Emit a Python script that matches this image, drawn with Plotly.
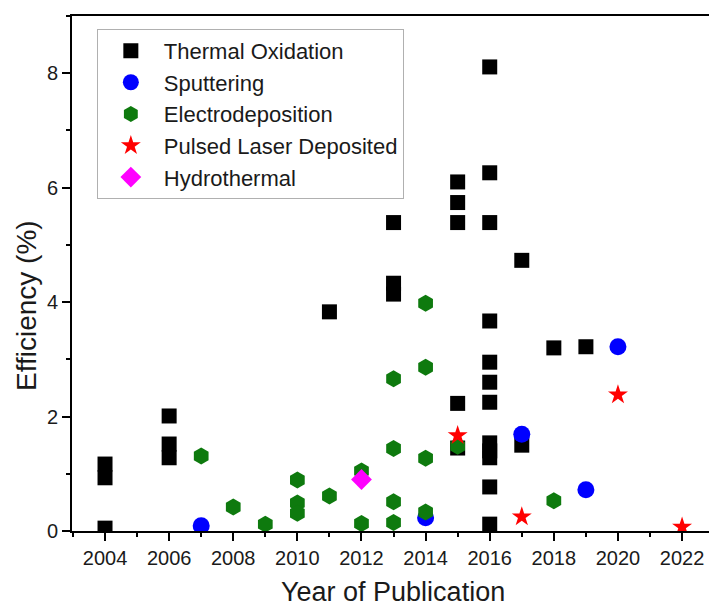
import plotly.graph_objects as go

# Thermal Oxidation
thermal_x = [2004, 2004, 2004, 2006, 2006, 2006, 2011, 2013, 2013, 2013,
             2015, 2015, 2015, 2015, 2015,
             2016, 2016, 2016, 2016, 2016, 2016, 2016, 2016, 2016, 2016, 2016, 2016,
             2017, 2017, 2018, 2019]
thermal_y = [0.05, 0.93, 1.17, 2.01, 1.52, 1.28, 3.83, 5.39, 4.33, 4.14,
             6.10, 5.74, 5.39, 2.23, 1.45,
             8.11, 6.26, 5.39, 3.67, 2.95, 2.60, 2.25, 1.54, 1.40, 1.28, 0.77, 0.12,
             4.73, 1.50, 3.20, 3.22]

# Sputtering
sput_x = [2007, 2014, 2017, 2019, 2020]
sput_y = [0.09, 0.23, 1.69, 0.72, 3.22]

# Electrodeposition
elec_x = [2007, 2008, 2009, 2010, 2010, 2010, 2011, 2012, 2012,
          2013, 2013, 2013, 2013, 2014, 2014, 2014, 2014, 2015, 2018]
elec_y = [1.31, 0.42, 0.12, 0.89, 0.49, 0.31, 0.61, 1.05, 0.13,
          2.66, 1.44, 0.51, 0.15, 3.98, 2.86, 1.27, 0.33, 1.48, 0.53]

# Pulsed Laser Deposited
pld_x = [2015, 2017, 2020, 2022]
pld_y = [1.67, 0.25, 2.38, 0.07]

# Hydrothermal
hydro_x = [2012]
hydro_y = [0.90]

x_ticks = [2004, 2006, 2008, 2010, 2012, 2014, 2016, 2018, 2020, 2022]
y_ticks = [0, 2, 4, 6, 8]

FONT = "Liberation Sans, Arial, sans-serif"

fig = go.Figure()
fig.add_trace(go.Scatter(x=thermal_x, y=thermal_y, mode="markers", name="Thermal Oxidation",
                         marker=dict(symbol="square", size=15, color="black")))
fig.add_trace(go.Scatter(x=sput_x, y=sput_y, mode="markers", name="Sputtering",
                         marker=dict(symbol="circle", size=17, color="#0000ff")))
fig.add_trace(go.Scatter(x=elec_x, y=elec_y, mode="markers", name="Electrodeposition",
                         marker=dict(symbol="hexagon", size=17, color="#0e7a0e")))
fig.add_trace(go.Scatter(x=pld_x, y=pld_y, mode="markers", name="Pulsed Laser Deposited",
                         marker=dict(symbol="star", size=15, color="#ff0000")))
fig.add_trace(go.Scatter(x=hydro_x, y=hydro_y, mode="markers", name="Hydrothermal",
                         marker=dict(symbol="diamond", size=16, color="#ff00ff")))

fig.update_layout(
    width=709, height=608,
    margin=dict(l=72, r=0, t=16, b=77),
    paper_bgcolor="white", plot_bgcolor="white",
    font=dict(family=FONT, size=20, color="#1a1a1a"),
    showlegend=True,
    legend=dict(x=0.039, y=0.975, xanchor="left", yanchor="top",
                bordercolor="#b0b0b0", borderwidth=1, bgcolor="white",
                font=dict(size=22), itemsizing="trace", tracegroupgap=0,
                itemwidth=56),
    annotations=[
        dict(text="Efficiency (%)", textangle=-90, xref="paper", yref="paper",
             x=-0.0706, y=0.437, xanchor="center", yanchor="middle",
             showarrow=False, font=dict(size=28, family=FONT, color="#1a1a1a")),
        dict(text="Year of Publication", xref="paper", yref="paper",
             x=0.504, y=-0.1194, xanchor="center", yanchor="middle",
             showarrow=False, font=dict(size=27, family=FONT, color="#1a1a1a")),
    ],
)
fig.update_xaxes(
    range=[2002.97, 2022.84], tickvals=x_ticks, ticktext=[str(v) for v in x_ticks],
    showgrid=False, zeroline=False, showline=True, linecolor="black", linewidth=2,
    mirror=True, ticks="outside", ticklen=8, tickwidth=2, tickcolor="black",
    minor=dict(ticks="outside", ticklen=4, tickwidth=2, tickcolor="black", dtick=1, showgrid=False),
    tickfont=dict(size=20), automargin=False,
)
fig.update_yaxes(
    range=[0, 9], tickvals=y_ticks,
    showgrid=False, zeroline=False, showline=True, linecolor="black", linewidth=2,
    mirror=False, ticks="outside", ticklen=8, tickwidth=2, tickcolor="black",
    minor=dict(ticks="outside", ticklen=4, tickwidth=2, tickcolor="black", dtick=1, showgrid=False),
    tickfont=dict(size=20), automargin=False,
)

fig.write_html("out.html", config={"displayModeBar": False},
               post_script="document.body.style.margin='0px';")
